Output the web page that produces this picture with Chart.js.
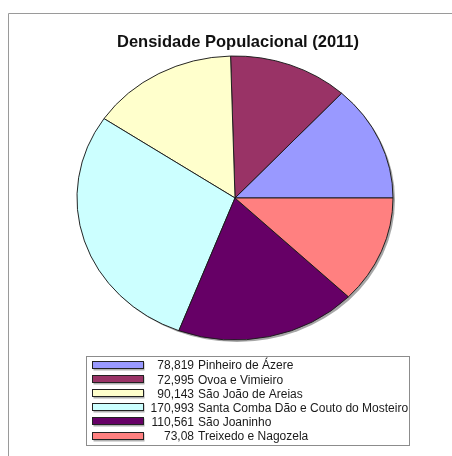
<!DOCTYPE html>
<html>
<head>
<meta charset="utf-8">
<script src="https://cdn.jsdelivr.net/npm/chart.js@4.4.1/dist/chart.umd.min.js"></script>
<style>
  html, body { margin: 0; padding: 0; background: #fff; }
  #wrap { position: relative; width: 452px; height: 456px; }
</style>
</head>
<body>
<div id="wrap"><canvas id="c" width="452" height="456"></canvas></div>
<script>
// Freguesias and their population density (2011)
const chartTitle = 'Densidade Populacional (2011)';
const categories = [
  'Pinheiro de Ázere',
  'Ovoa e Vimieiro',
  'São João de Areias',
  'Santa Comba Dão e Couto do Mosteiro',
  'São Joaninho',
  'Treixedo e Nagozela'
];
const densities = [78.819, 72.995, 90.143, 170.993, 110.561, 73.08];
const sliceColors = ['#9999ff', '#993366', '#ffffcc', '#ccffff', '#660066', '#ff8080'];

// Values printed with a decimal comma in the key
const valueText = densities.map(v => String(v).replace('.', ','));

// Squash the pie into an ellipse and make the slices run anticlockwise
const ellipsePie = {
  id: 'ellipsePie',
  beforeDatasetsDraw(chart) {
    const meta = chart.getDatasetMeta(0);
    const arc = meta.data[0];
    if (!arc) return;
    const cx = arc.x, cy = arc.y, r = arc.outerRadius;
    const ctx = chart.ctx;
    const k = 142 / 158;
    // soft drop shadow
    ctx.save();
    ctx.fillStyle = 'rgba(0,0,0,0.35)';
    ctx.beginPath();
    ctx.ellipse(cx + 2, cy + 2, r, r * k, 0, 0, Math.PI * 2);
    ctx.fill();
    ctx.restore();
    ctx.save();
    ctx.translate(cx, cy);
    ctx.scale(1, -k);
    ctx.translate(-cx, -cy);
  },
  afterDatasetsDraw(chart) {
    chart.ctx.restore();
  }
};

// Title, outer frame and boxed key
const decorations = {
  id: 'decorations',
  afterDraw(chart) {
    const ctx = chart.ctx;
    ctx.save();
    // frame
    ctx.strokeStyle = '#9a9a9a';
    ctx.lineWidth = 1;
    ctx.beginPath();
    ctx.moveTo(8.5, 456);
    ctx.lineTo(8.5, 13.5);
    ctx.lineTo(452, 13.5);
    ctx.stroke();

    // title
    ctx.fillStyle = '#111';
    ctx.font = 'bold 16.5px "Liberation Sans", Arial, sans-serif';
    ctx.textAlign = 'center';
    ctx.textBaseline = 'middle';
    ctx.fillText(chartTitle, 238, 42.5);

    // key box
    ctx.strokeStyle = '#8c8c8c';
    ctx.strokeRect(86.5, 356.5, 323, 89);
    ctx.font = '12px "Liberation Sans", Arial, sans-serif';
    ctx.textBaseline = 'middle';
    categories.forEach((name, i) => {
      const y = 364.5 + i * 14.2;
      const top = Math.round(y - 4) + 0.5;
      ctx.fillStyle = '#b0b0b0';
      ctx.fillRect(93.5, top + 1, 51, 8);
      ctx.fillStyle = sliceColors[i];
      ctx.fillRect(92.5, top, 51, 7);
      ctx.strokeStyle = '#222';
      ctx.strokeRect(92.5, top, 51, 7);
      ctx.fillStyle = '#1a1a1a';
      ctx.textAlign = 'right';
      ctx.fillText(valueText[i], 194, y + 1.5);
      ctx.textAlign = 'left';
      ctx.fillText(name, 198, y + 1.5);
    });
    ctx.restore();
  }
};

new Chart(document.getElementById('c'), {
  type: 'pie',
  data: {
    labels: categories,
    datasets: [{
      data: densities,
      backgroundColor: sliceColors,
      borderColor: '#1a1a1a',
      borderWidth: 1
    }]
  },
  options: {
    responsive: false,
    animation: false,
    rotation: 90,
    radius: 158,
    layout: { padding: { left: 77, right: 59, top: 40, bottom: 100 } },
    plugins: {
      legend: { display: false },
      title: { display: false },
      tooltip: { enabled: false }
    },
    events: []
  },
  plugins: [ellipsePie, decorations]
});
</script>
</body>
</html>
